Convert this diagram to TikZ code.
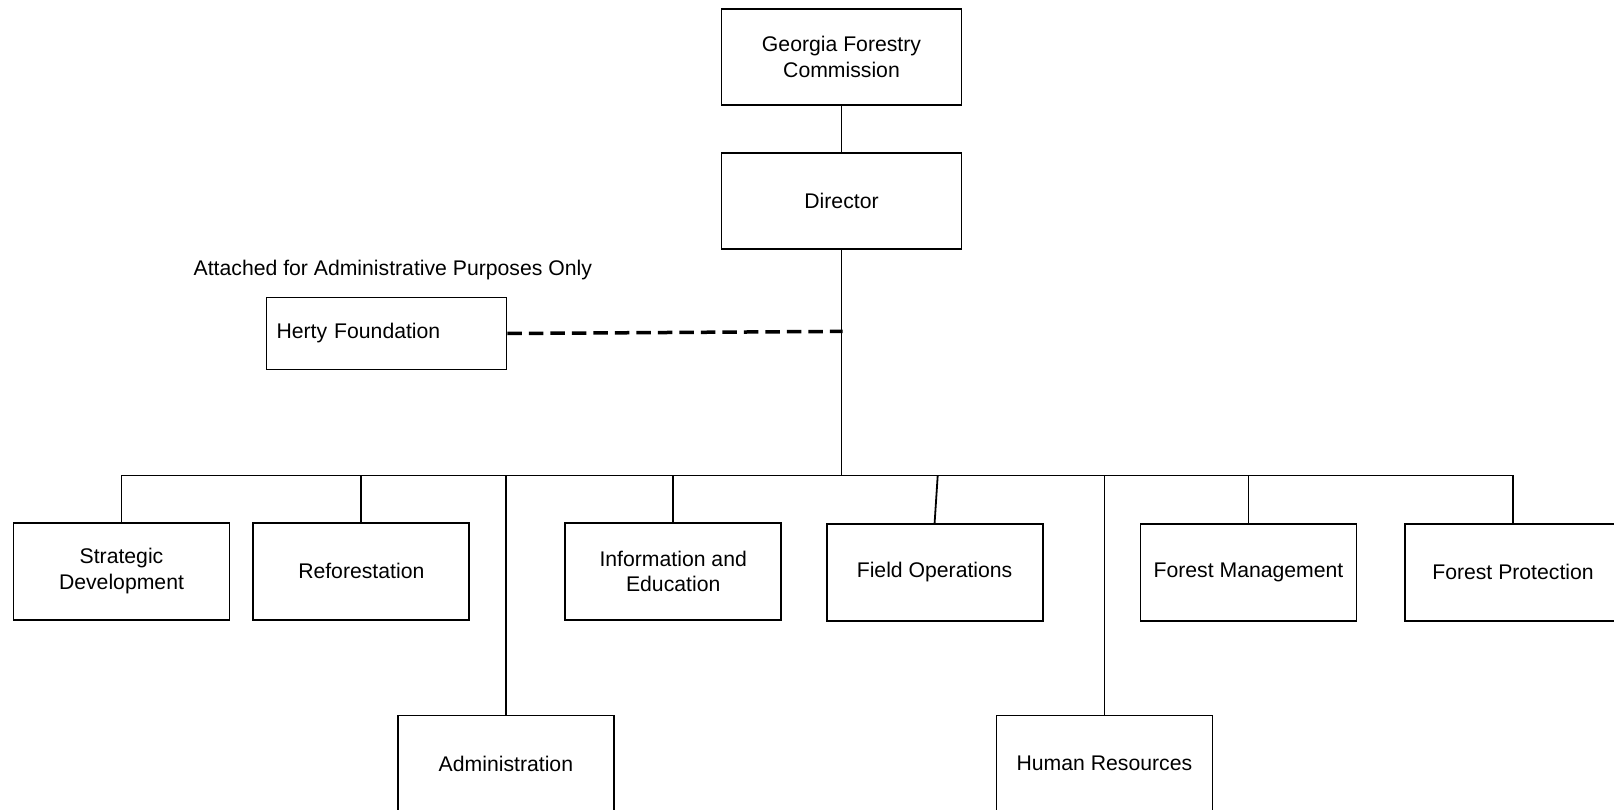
\documentclass[tikz,border=0pt]{standalone}
\usepackage{fontspec}
\setmainfont{Liberation Sans}
\begin{document}
\begin{tikzpicture}[x=1pt,y=-1pt,
  lbl/.style={font=\fontsize{21.2}{25.7}\selectfont},
  box/.style={lbl, draw, line width=1.8pt, minimum width=216pt, minimum height=96.7pt, align=center, inner sep=0pt},
  topbox/.style={box, minimum width=240pt, minimum height=96pt},
  link/.style={line width=1.8pt},
  dashlink/.style={line width=3.5pt, dash pattern=on 14.5pt off 7pt}]
\useasboundingbox (0,0) rectangle (1614,810);
\clip (0,0) rectangle (1614,810);
\node[topbox] (gfc) at (841.5,57.2) {Georgia Forestry\\Commission};
\node[topbox] (dir) at (841.5,201.3) {\raisebox{-1.5pt}{Director}};
\node[lbl, anchor=west, inner sep=0pt] (att) at (193.5,269.7) {Attached for Administrative Purposes Only};
\node[lbl, draw, line width=1.8pt, text width=220pt, align=left, inner xsep=10pt, inner ysep=0pt, minimum height=72pt, anchor=west] (herty) at (265.6,333.5) {\raisebox{-3pt}{Herty Foundation}};
\node[box] (sd) at (121.5,571.3) {Strategic\\Development};
\node[box] (ref) at (361.3,571.3) {Reforestation};
\node[box] (ie) at (673.2,571.3) {Information and\\Education};
\node[box] (fo) at (934.6,572.3) {Field Operations};
\node[box] (fm) at (1248.5,572.3) {Forest Management};
\node[box] (fp) at (1513,572.3) {Forest Protection};
\node[box] (adm) at (505.9,763.8) {Administration};
\node[box] (hr) at (1104.4,763.8) {Human Resources};
\coordinate (bus) at (841.5,475.5);
\coordinate (dj) at (842.5,331.4);
\coordinate (fotop) at (937.7,475.5);
\draw[link] (gfc) -- (dir);
\draw[link] (dir) -- (bus);
\draw[link] (sd.north) -- (sd.north |- bus) -- (fp.north |- bus) -- (fp.north);
\draw[link] (ref.north) -- (ref.north |- bus);
\draw[link] (ie.north) -- (ie.north |- bus);
\draw[link] (fo.north) -- (fotop);
\draw[link] (fm.north) -- (fm.north |- bus);
\draw[link] (adm.north) -- (adm.north |- bus);
\draw[link] (hr.north) -- (hr.north |- bus);
\draw[dashlink] (herty.east) -- (dj);
\end{tikzpicture}
\end{document}
